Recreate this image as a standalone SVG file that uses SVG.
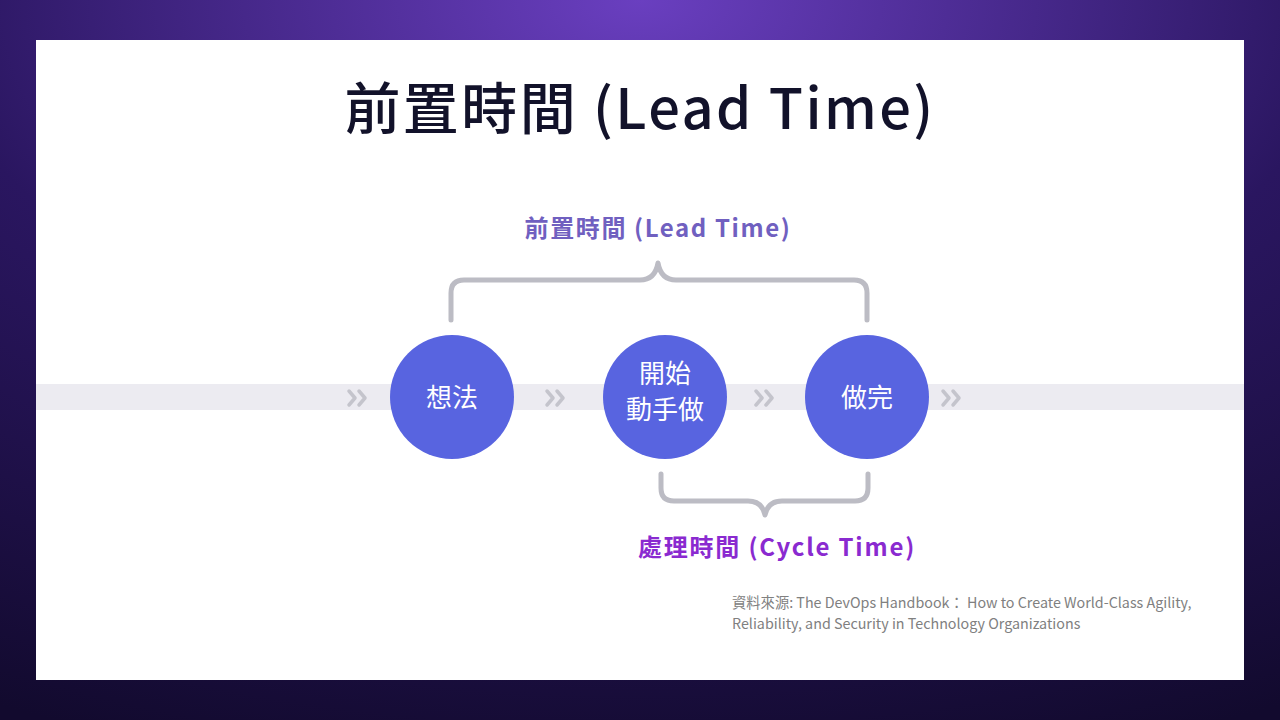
<svg xmlns="http://www.w3.org/2000/svg" width="1280" height="720" viewBox="0 0 1280 720">
<defs>
<radialGradient id="bg" cx="50%" cy="0%" r="110%">
<stop offset="0" stop-color="#6a3fc0"/><stop offset="0.5" stop-color="#2a1660"/><stop offset="1" stop-color="#120a2e"/>
</radialGradient>
<style>
.c{fill:#5864e0}
.ct{font-family:"Noto Sans CJK TC",sans-serif;font-size:26px;fill:#fff;text-anchor:middle}
.br{fill:none;stroke:#bcbcc4;stroke-width:5;stroke-linecap:round;stroke-linejoin:round}
.ch{fill:none;stroke:#c4c4cc;stroke-width:3.5;stroke-linecap:round;stroke-linejoin:round}
</style>
<path id="chev" class="ch" d="M-8 -7 L-2 0 L-8 7 M2 -7 L8 0 L2 7"/>
</defs>
<rect width="1280" height="720" fill="url(#bg)"/>
<rect x="36" y="40" width="1208" height="640" fill="#fff"/>
<text x="640" y="129" text-anchor="middle" font-family="Noto Sans CJK TC, sans-serif" font-size="56" font-weight="500" letter-spacing="2.4" fill="#12122a">前置時間 (Lead Time)</text>
<rect x="36" y="384" width="1208" height="26" fill="#ecebf1"/>
<g id="connectors">
<use href="#chev" x="357" y="398"/>
<use href="#chev" x="555" y="398"/>
<use href="#chev" x="764" y="398"/>
<use href="#chev" x="951" y="398"/>
<path class="br" d="M451 320 V293 Q451 280 464 280 H640 Q655 280 658 263 Q661 280 676 280 H854 Q867 280 867 293 V320"/>
<path class="br" d="M661 474 V488 Q661 501 674 501 H748 Q762 501 765 515 Q768 501 782 501 H855 Q868 501 868 488 V474"/>
</g>
<g id="n1"><circle class="c" cx="452" cy="397" r="62"/><text class="ct" x="452" y="407">想法</text></g>
<g id="n2"><circle class="c" cx="665" cy="397" r="62"/><text class="ct" x="665" y="383">開始</text><text class="ct" x="665" y="419">動手做</text></g>
<g id="n3"><circle class="c" cx="867" cy="397" r="62"/><text class="ct" x="867" y="407">做完</text></g>
<text x="658" y="237" text-anchor="middle" font-family="Noto Sans CJK TC, sans-serif" font-size="24" font-weight="bold" letter-spacing="1.6" fill="#7060c0">前置時間 (Lead Time)</text>
<text x="777" y="556" text-anchor="middle" font-family="Noto Sans CJK TC, sans-serif" font-size="24" font-weight="bold" letter-spacing="1.8" fill="#8a2ad0">處理時間 (Cycle Time)</text>
<text font-family="Noto Sans CJK TC, sans-serif" font-size="14.3" fill="#808080"><tspan x="732" y="608">資料來源: The DevOps Handbook： How to Create World-Class Agility,</tspan><tspan x="732" y="629">Reliability, and Security in Technology Organizations</tspan></text>
</svg>
